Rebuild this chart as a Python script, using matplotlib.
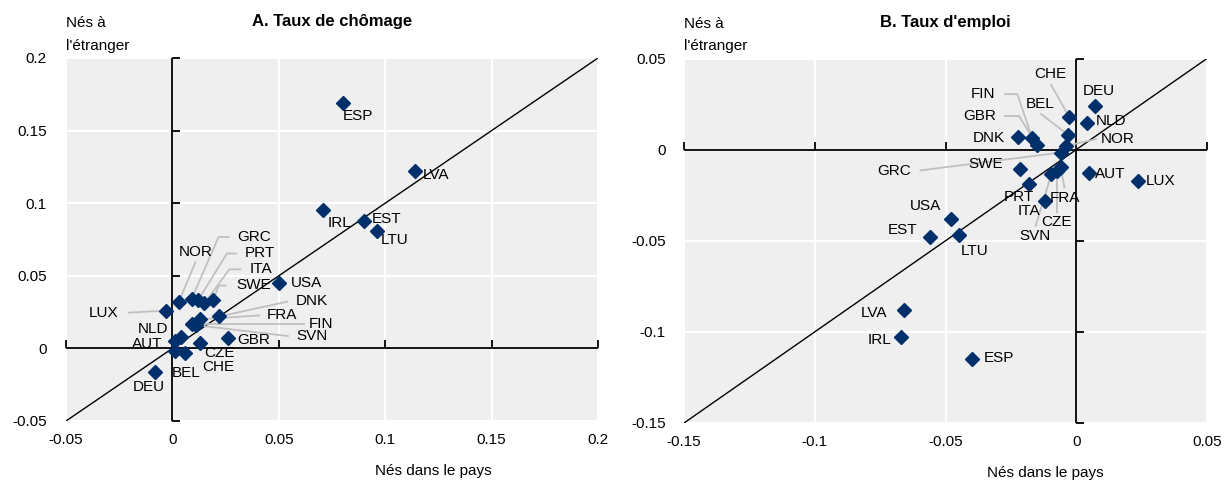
import matplotlib
matplotlib.use('Agg')
import matplotlib.pyplot as plt
from matplotlib import font_manager
import numpy as np

names = {f.name for f in font_manager.fontManager.ttflist}
if 'Liberation Sans Narrow' in names:
    FONT, FS, TFS = 'Liberation Sans Narrow', 13, 14
else:
    FONT, FS, TFS = 'Liberation Sans', 11, 12
plt.rcParams['font.family'] = [FONT, 'DejaVu Sans']

# ---------------- data ----------------
countries = ['ESP', 'LVA', 'IRL', 'EST', 'LTU', 'USA', 'GBR', 'CZE', 'CHE', 'BEL', 'DEU', 'AUT',
             'NLD', 'LUX', 'NOR', 'GRC', 'PRT', 'ITA', 'SWE', 'DNK', 'FRA', 'FIN', 'SVN']
unemp_native = [0.080, 0.114, 0.071, 0.090, 0.096, 0.050, 0.026, 0.013, 0.006, 0.001, -0.008, 0.001,
                0.004, -0.003, 0.003, 0.009, 0.012, 0.015, 0.019, 0.022, 0.013, 0.009, 0.011]
unemp_foreign = [0.169, 0.122, 0.095, 0.088, 0.081, 0.045, 0.007, 0.004, -0.003, -0.002, -0.016, 0.005,
                 0.008, 0.026, 0.032, 0.034, 0.033, 0.031, 0.033, 0.022, 0.020, 0.017, 0.016]
emp_native = [-0.040, -0.066, -0.067, -0.056, -0.045, -0.048, -0.015, -0.0075, -0.0026, -0.003, 0.007, 0.005,
              0.0042, 0.0235, -0.004, -0.006, -0.018, -0.012, -0.0216, -0.0223, -0.006, -0.0168, -0.0095]
emp_foreign = [-0.115, -0.088, -0.103, -0.048, -0.047, -0.038, 0.0025, -0.012, 0.0177, 0.008, 0.024, -0.013,
               0.0146, -0.0173, 0.002, -0.0016, -0.0186, -0.028, -0.0107, 0.0072, -0.0094, 0.0063, -0.0135]

ticks_a = [-0.05, 0, 0.05, 0.1, 0.15, 0.2]
ticks_b = [-0.15, -0.1, -0.05, 0, 0.05]
ticklabels_a = ['-0.05', '0', '0.05', '0.1', '0.15', '0.2']
ticklabels_b = ['-0.15', '-0.1', '-0.05', '0', '0.05']

title_a = 'A. Taux de chômage'
title_b = "B. Taux d'emploi"
ylabel = 'Nés à\nl\'étranger'
xlabel = 'Nés dans le pays'

# ---------------- label layout (pixel offsets) ----------------
# name: (dx, dy, ha, leader, gap, stub)
layout_a = {
    'ESP': (0, -13, 'left', None, 0, 0), 'LVA': (8, -4, 'left', None, 0, 0),
    'IRL': (4, -13, 'left', None, 0, 0), 'EST': (8, 2, 'left', None, 0, 0),
    'LTU': (4, -9, 'left', None, 0, 0), 'USA': (12, 0, 'left', None, 0, 0),
    'GBR': (10, -2, 'left', None, 0, 0), 'CZE': (4, -10, 'left', None, 0, 0),
    'CHE': (17, -14, 'left', None, 0, 0), 'BEL': (-3, -22, 'left', None, 0, 0),
    'DEU': (-23, -15, 'left', None, 0, 0), 'AUT': (-12, -3, 'right', None, 0, 0),
    'NLD': (-13, 8, 'right', None, 0, 0), 'LUX': (-48, -2, 'right', 'side', 10, 0),
    'NOR': (17, 50, 'center', 'below', 0, 0), 'GRC': (46, 62, 'left', 'side', 8, 11),
    'PRT': (47, 47, 'left', 'side', 8, 10), 'ITA': (45, 34, 'left', 'side', 8, 12),
    'SWE': (24, 15, 'left', 'side', 10, 8), 'DNK': (77, 15, 'left', 'side', 8, 0),
    'FRA': (67, 4, 'left', 'side', 7, 0), 'FIN': (117, 0, 'left', 'side', 4, 0),
    'SVN': (101, -11, 'left', 'side', 8, 0),
}
layout_b = {
    'CHE': (-19, 43, 'center', 'below', 0, 0), 'DEU': (-12, 15, 'left', None, 0, 0),
    'NLD': (9, 2, 'left', None, 0, 0), 'NOR': (35, 7, 'left', 'side', 4, 0),
    'BEL': (-28, 31, 'center', 'below', 0, 0), 'FIN': (-37, 44, 'right', 'side', 9, 13),
    'GBR': (-41, 29, 'right', 'side', 8, 15), 'DNK': (-13, -1, 'right', None, 0, 0),
    'GRC': (-150, -18, 'right', 'side', 9, 0), 'SWE': (-17, 5, 'right', None, 0, 0),
    'PRT': (5, -13, 'right', None, 0, 0), 'FRA': (4, -31, 'center', 'above', 0, 0),
    'ITA': (-16, -10, 'center', None, 0, 0), 'CZE': (0, -51, 'center', 'above', 0, 0),
    'SVN': (-16, -62, 'center', 'above', 0, 0), 'USA': (-10, 13, 'right', None, 0, 0),
    'EST': (-12, 7, 'right', None, 0, 0), 'LTU': (2, -16, 'left', None, 0, 0),
    'AUT': (6, -1, 'left', None, 0, 0), 'LUX': (8, 0, 'left', None, 0, 0),
    'LVA': (-16, -3, 'right', None, 0, 0), 'IRL': (-10, -3, 'right', None, 0, 0),
    'ESP': (12, 1, 'left', None, 0, 0),
}

NAVY = '#00306b'
BG = '#efefef'
LEADER = '#c0c0c0'

fig = plt.figure(figsize=(12.24, 4.84), dpi=100)
ax_a = fig.add_axes([66/1224, 63/484, 532/1224, 363/484])
ax_b = fig.add_axes([684/1224, 61/484, 523/1224, 364.5/484])


def panel(ax, xs, ys, ticks, ticklabels, title, layout, ypad, xpad):
    lo, hi = ticks[0], ticks[-1]
    ax.set_xlim(lo, hi)
    ax.set_ylim(lo, hi)
    ax.set_facecolor(BG)
    for s in ax.spines.values():
        s.set_visible(False)
    ax.set_xticks(ticks)
    ax.set_yticks(ticks)
    ax.set_xticklabels(ticklabels)
    ax.set_yticklabels(ticklabels)
    ax.tick_params(axis='both', length=0, labelsize=FS, colors='black')
    ax.tick_params(axis='y', pad=ypad)
    ax.tick_params(axis='x', pad=xpad)
    ax.grid(True, color='white', lw=1.5, zorder=0)
    ax.set_axisbelow(True)
    # zero axes
    ax.axhline(0, color='black', lw=1.3, zorder=2)
    ax.axvline(0, color='black', lw=1.3, zorder=2)
    nz = [t for t in ticks if t != 0]
    ax.plot(nz, [0] * len(nz), ls='none', marker=2, ms=6, mew=1.3, color='black', zorder=2,
            clip_on=False)
    ax.plot([0] * len(nz), nz, ls='none', marker=1, ms=6, mew=1.3, color='black', zorder=2,
            clip_on=False)
    # 45 degree line
    ax.plot([lo, hi], [lo, hi], color='black', lw=1.0, zorder=2)
    # points
    ax.plot(xs, ys, ls='none', marker='D', ms=7.5, color=NAVY, zorder=4)
    # labels
    tr = ax.transData
    inv = tr.inverted()
    th = 13.0
    for name, x, y in zip(countries, xs, ys):
        dx, dy, ha, leader, gap, stub = layout[name]
        p = tr.transform((x, y))
        t = p + np.array([dx, dy])
        tx, ty = inv.transform(t)
        ax.text(tx, ty, name, ha=ha, va='center', fontsize=FS, zorder=5)
        if leader is None:
            continue
        if leader == 'side':
            sgn = -1 if ha == 'left' else 1
            s = t + np.array([sgn * gap, 0])
            e = s + np.array([sgn * stub, 0])
            pts = [s, e]
        elif leader == 'below':
            pts = [t + np.array([0, -th / 2 - 3])]
        else:
            pts = [t + np.array([0, th / 2 + 3])]
        last = pts[-1]
        d = p - last
        dist = np.hypot(*d)
        end = p - d / dist * 5 if dist > 0 else p
        pts.append(end)
        pts = np.array([inv.transform(q) for q in pts])
        ax.plot(pts[:, 0], pts[:, 1], color=LEADER, lw=1.3, zorder=3, solid_capstyle='butt')
    ax.text(0.5, 1.10, title, transform=ax.transAxes, ha='center', va='center',
            fontsize=TFS, fontweight='bold')
    ax.text(0.0, 1.015, ylabel, transform=ax.transAxes, ha='left', va='bottom',
            fontsize=FS, linespacing=1.75)
    ax.text(0.69, -0.138, xlabel, transform=ax.transAxes, ha='center', va='center', fontsize=FS)


panel(ax_a, unemp_native, unemp_foreign, ticks_a, ticklabels_a, title_a, layout_a, 14, 9)
panel(ax_b, emp_native, emp_foreign, ticks_b, ticklabels_b, title_b, layout_b, 13, 9)

fig.savefig('out.png', dpi=100)
